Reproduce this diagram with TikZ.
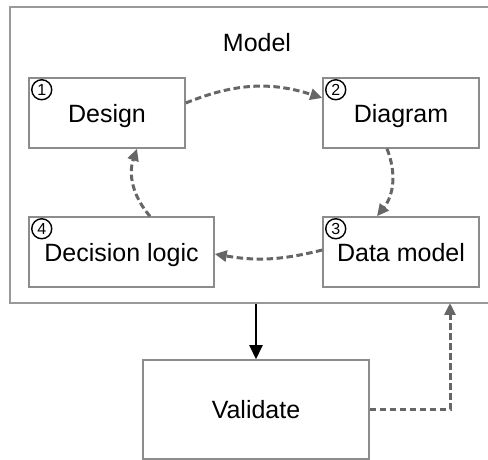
\documentclass[tikz,border=0pt]{standalone}
\usepackage{fontspec}
\setmainfont{Liberation Sans}
\usetikzlibrary{arrows.meta}

\begin{document}
\begin{tikzpicture}[x=1pt, y=1pt]
    % Define styles
    \tikzstyle{stage} = [rectangle, minimum width=156pt, minimum height=70pt, text centered, draw=black!45, line width=1.5pt, text height=20pt, text depth=0pt, font=\fontsize{25}{30}\selectfont]
    \tikzstyle{number} = [circle, draw=black, line width=1.4pt, minimum size=20pt, inner sep=0pt, font=\fontsize{16}{16}\selectfont]
    \tikzstyle{cycle} = [line width=3pt, draw=black!60, dash pattern=on 6.5pt off 3.5pt, -{Triangle[length=12pt,width=11pt]}]
    \tikzstyle{arrow} = [line width=2.2pt, -{Triangle[length=14pt,width=13pt]}]

    \useasboundingbox (0,0) rectangle (488,460);
    \clip (0,0) rectangle (488,460);

    % Model frame
    \node (model) [rectangle, draw=black!40, line width=1.5pt, minimum width=482pt, minimum height=296pt] at (251,305) {};
    \node (title) [anchor=base, font=\fontsize{25}{30}\selectfont] at (257,408) {Model};

    % Cycle
    \node (design) [stage] at (107,347) {Design};
    \node (diagram) [stage] at (401,347) {Diagram};
    \node (datamodel) [stage] at (401,208) {Data model};
    \node (decision) [stage, minimum width=185pt] at (121.5,208) {Decision logic};

    \node (n1) [number] at ([xshift=13.5pt, yshift=-12.5pt]design.north west) {1};
    \node (n2) [number] at ([xshift=13.5pt, yshift=-12.5pt]diagram.north west) {2};
    \node (n3) [number] at ([xshift=13.5pt, yshift=-12.5pt]datamodel.north west) {3};
    \node (n4) [number] at ([xshift=13.5pt, yshift=-12.5pt]decision.north west) {4};

    % Validate
    \node (validate) [stage, minimum width=226pt, minimum height=99pt, text height=18pt] at (256,50.5) {Validate};
    \coordinate (back) at (450,157);

    % Arrows
    \draw [cycle] ([yshift=10pt]design.east) to[bend left=20] ([yshift=15pt]diagram.west);
    \draw [cycle] ([xshift=-14pt]diagram.south) to[bend left=30] ([xshift=-24pt]datamodel.north);
    \draw [cycle] ([yshift=2pt]datamodel.west) to[bend left=12] ([yshift=-2pt]decision.east);
    \draw [cycle] ([xshift=28.5pt]decision.north) to[bend left=30] ([xshift=30pt]design.south);
    \draw [arrow] (validate.north |- model.south) -- (validate.north);
    \draw [cycle] (validate.east) -| (back);
\end{tikzpicture}
\end{document}
